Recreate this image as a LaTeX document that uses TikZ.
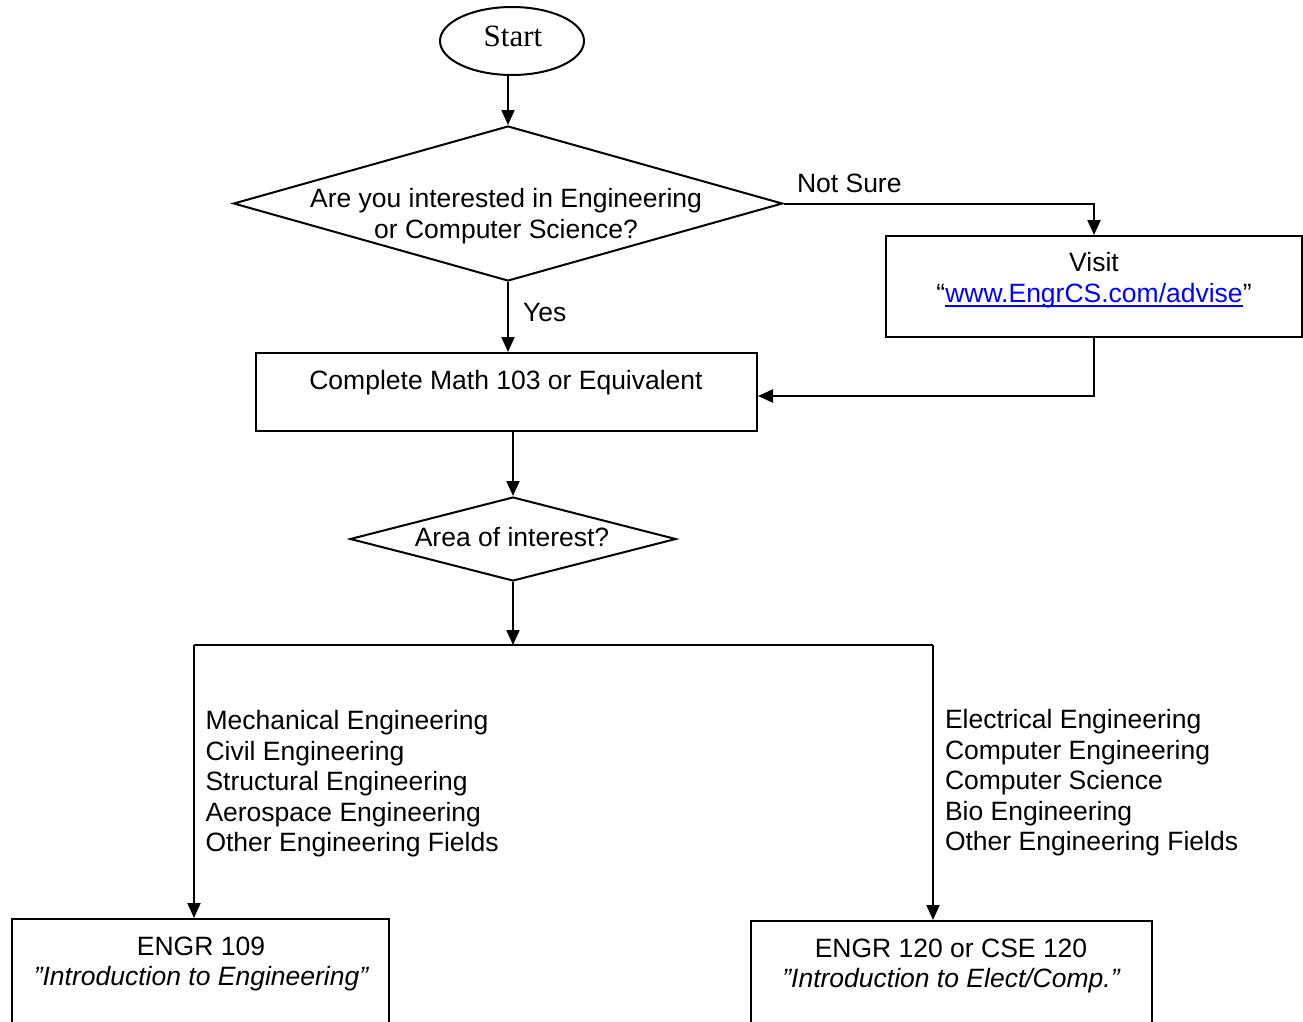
\documentclass[tikz,border=0pt]{standalone}
\usepackage{fontspec}
\setmainfont{Liberation Sans}
\newfontfamily\timesfont{Liberation Serif}
\usetikzlibrary{shapes.geometric,arrows.meta}
\definecolor{linkblue}{RGB}{0,0,255}
\newsavebox\lnkbox
\newcommand\mylink[1]{\sbox\lnkbox{#1}\rlap{\rule[-4pt]{\wd\lnkbox}{1.8pt}}\usebox\lnkbox}
\begin{document}
\begin{tikzpicture}[x=1pt,y=-1pt,
  line width=2pt,
  arr/.style={-{Triangle[length=15pt,width=13pt]}},
  txt/.style={font=\fontsize{26.5}{30.5}\selectfont, inner sep=0pt, anchor=base},
  boxnode/.style={draw, rectangle, inner sep=0pt},
  decision/.style={draw, diamond, inner sep=0pt},
  ]
\useasboundingbox (0,0) rectangle (1303,1021);
% nodes
\node[draw, ellipse, minimum width=144pt, minimum height=68pt, inner sep=0pt] (start) at (512,41) {};
\node[txt, font=\timesfont\fontsize{31}{34}\selectfont] (starttxt) at (513,46) {Start};
\node[decision, minimum width=549pt, minimum height=155pt] (d1) at (508,203.5) {};
\node[txt] (d1a) at (506,207.5) {Are you interested in Engineering};
\node[txt] (d1b) at (506,238.5) {or Computer Science?};
\node[txt, anchor=base west] (notsure) at (796,192.5) {Not Sure};
\node[boxnode, minimum width=416pt, minimum height=101pt] (visit) at (1094,286.5) {};
\node[txt] (visita) at (1094,271.5) {Visit};
\node[txt] (visitb) at (1094,302.5) {“\textcolor{linkblue}{\mylink{www.EngrCS.com/advise}}”};
\node[txt, anchor=base west] (yes) at (522,321.5) {Yes};
\node[boxnode, minimum width=501pt, minimum height=78pt] (math) at (506.5,392) {};
\node[txt] (mathtxt) at (506,389.5) {Complete Math 103 or Equivalent};
\node[decision, minimum width=326pt, minimum height=84pt] (d2) at (513,539) {};
\node[txt] (d2txt) at (512,546.5) {Area of interest?};
\coordinate (split) at (513,645);
\coordinate (L) at (194,645);
\coordinate (R) at (933,645);
\foreach \t [count=\i from 0] in {Mechanical Engineering, Civil Engineering, Structural Engineering, Aerospace Engineering, Other Engineering Fields}
  \node[txt, anchor=base west] (left\i) at (204.5,729.5+30.5*\i) {\t};
\foreach \t [count=\i from 0] in {Electrical Engineering, Computer Engineering, Computer Science, Bio Engineering, Other Engineering Fields}
  \node[txt, anchor=base west] (right\i) at (944,728.5+30.5*\i) {\t};
\node[boxnode, minimum width=377pt, minimum height=141pt] (b1) at (200.5,989.5) {};
\node[txt] (b1a) at (201,955.5) {ENGR 109};
\node[txt] (b1b) at (201,985.5) {\itshape ”Introduction to Engineering”};
\node[boxnode, minimum width=401pt, minimum height=139pt] (b2) at (951.5,990.5) {};
\node[txt] (b2a) at (951,957.5) {ENGR 120 or CSE 120};
\node[txt] (b2b) at (951,987.5) {\itshape ”Introduction to Elect/Comp.”};
% connectors
\draw[arr] (d1.north |- start.south) -- (d1.north);
\draw[arr] (d1.east) -| (visit.north);
\draw[arr] (visit.south) |- ([yshift=-4pt]math.east);
\draw[arr] (d1.south) -- (d1.south |- math.north);
\draw[arr] (d2.north |- math.south) -- (d2.north);
\draw[arr] (d2.south) -- (split);
\draw (L) -- (R);
\draw[arr] (L) -- (L |- b1.north);
\draw[arr] (R) -- (R |- b2.north);
\end{tikzpicture}
\end{document}
